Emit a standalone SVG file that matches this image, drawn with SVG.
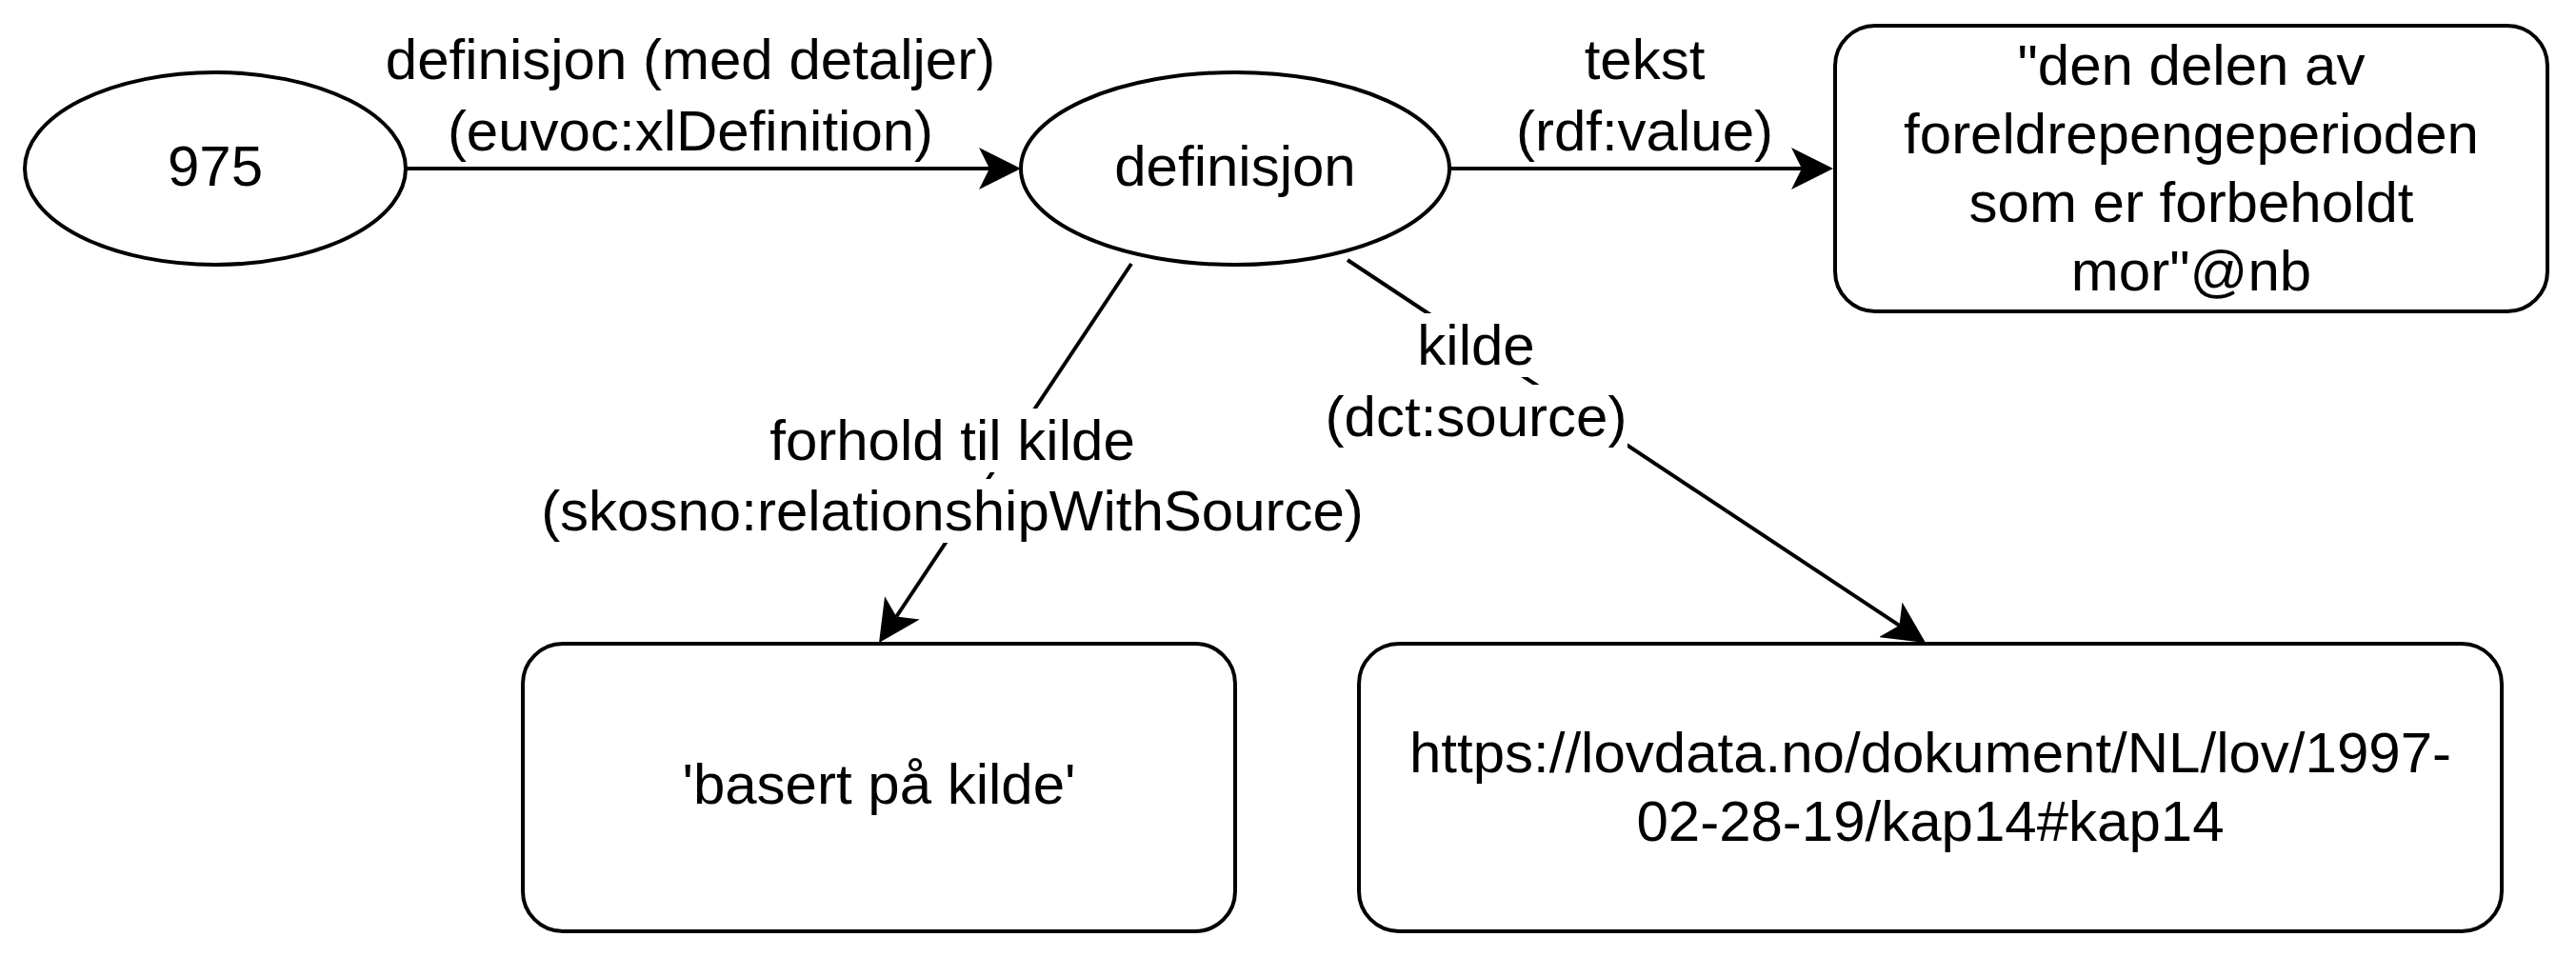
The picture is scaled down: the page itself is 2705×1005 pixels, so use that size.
<svg xmlns="http://www.w3.org/2000/svg" width="2705" height="1005" viewBox="0 0 2705 1005">
<style>
.shape{fill:#fff;stroke:#000;stroke-width:4}
.edge{fill:none;stroke:#000;stroke-width:4}
.t{font-family:"Liberation Sans",Arial,Helvetica,sans-serif;font-size:60px;fill:#000;text-anchor:middle}
.bg{fill:#fff;stroke:none}
</style>
<defs>
<marker id="arrow" viewBox="0 -22 44 44" refX="11" refY="0" markerWidth="44" markerHeight="44" markerUnits="userSpaceOnUse" orient="auto">
<path d="M0,-22 L44,0 L0,22 L11,0 Z" fill="#000"/>
</marker>
</defs>
<rect x="0" y="0" width="2705" height="1005" fill="#fff"/>
<g id="node-975">
<ellipse class="shape" cx="226" cy="177" rx="200" ry="101"/>
<text class="t" x="226" y="195">975</text>
</g>
<g id="node-definisjon">
<ellipse class="shape" cx="1297" cy="177" rx="225" ry="101"/>
<text class="t" x="1297" y="195">definisjon</text>
</g>
<g id="node-tekst">
<rect class="shape" x="1927" y="27" width="748" height="300" rx="42" ry="42"/>
<text class="t" x="2301" y="89">"den delen av</text>
<text class="t" x="2301" y="161">foreldrepengeperioden</text>
<text class="t" x="2301" y="233">som er forbeholdt</text>
<text class="t" x="2301" y="305">mor"@nb</text>
</g>
<g id="node-forhold">
<rect class="shape" x="549" y="676" width="748" height="302" rx="42" ry="42"/>
<text class="t" x="923" y="844">'basert på kilde'</text>
</g>
<g id="node-kilde">
<rect class="shape" x="1427" y="676" width="1200" height="302" rx="42" ry="42"/>
<text class="t" x="2027" y="811">https://lovdata.no/dokument/NL/lov/1997-</text>
<text class="t" x="2027" y="883">02-28-19/kap14#kap14</text>
</g>
<g id="connectors">
<path class="edge" d="M426,177 L1039,177" marker-end="url(#arrow)"/>
<path class="edge" d="M1522,177 L1892,177" marker-end="url(#arrow)"/>
<path class="edge" d="M1188,277 L941.3,647.5" marker-end="url(#arrow)"/>
<path class="edge" d="M1415,273 L1994.5,656.8" marker-end="url(#arrow)"/>
<g id="label-definisjon">
<text class="t" x="725" y="83">definisjon (med detaljer)</text>
<text class="t" x="725" y="158">(euvoc:xlDefinition)</text>
</g>
<g id="label-tekst">
<text class="t" x="1727" y="83">tekst</text>
<text class="t" x="1727" y="158">(rdf:value)</text>
</g>
<g id="label-forhold">
<rect class="bg" x="808" y="429" width="384" height="67"/>
<rect class="bg" x="568" y="503" width="864" height="67"/>
<text class="t" x="1000" y="483">forhold til kilde</text>
<text class="t" x="1000" y="557">(skosno:relationshipWithSource)</text>
</g>
<g id="label-kilde">
<rect class="bg" x="1488" y="329" width="124" height="67"/>
<rect class="bg" x="1392" y="404" width="317" height="67"/>
<text class="t" x="1550" y="383">kilde</text>
<text class="t" x="1550" y="458">(dct:source)</text>
</g>
</g>
</svg>
